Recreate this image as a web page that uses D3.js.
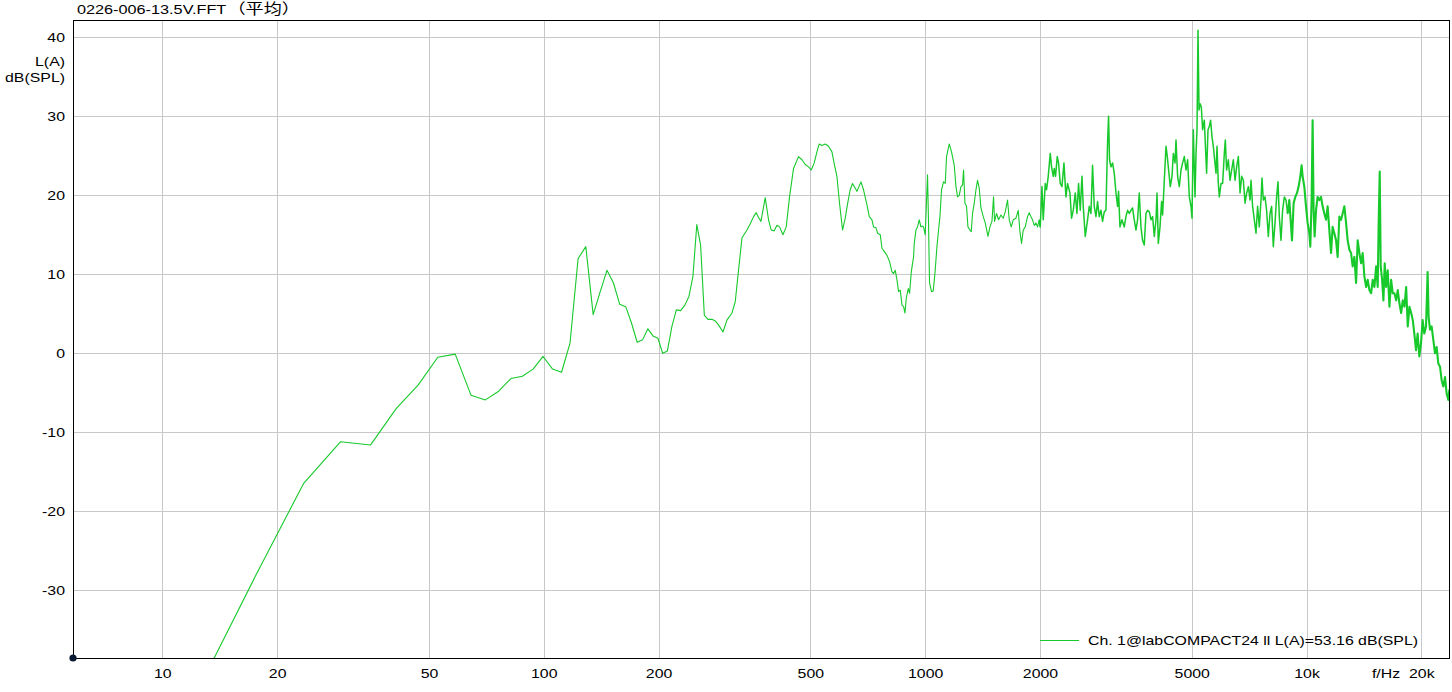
<!DOCTYPE html>
<html>
<head>
<meta charset="utf-8">
<script src="https://cdn.jsdelivr.net/npm/d3@7"></script>
<style>
  html, body { margin: 0; padding: 0; background: #ffffff; }
  svg { display: block; }
</style>
</head>
<body>
<div id="chart"></div>
<script>
// ---------------- data ----------------
const titleLatin = "0226-006-13.5V.FFT";
const titleCjk = "（平均）";
const yUnitLines = ["L(A)", "dB(SPL)"];
const xUnitLabel = "f/Hz";
const legendLabel = "Ch. 1@labCOMPACT24 ll L(A)=53.16 dB(SPL)";

const yTickValues = [-30, -20, -10, 0, 10, 20, 30, 40];
const yTickLabels = ["-30", "-20", "-10", "0", "10", "20", "30", "40"];
const xTickValues = [10, 20, 50, 100, 200, 500, 1000, 2000, 5000, 10000, 20000];
const xTickLabels = ["10", "20", "50", "100", "200", "500", "1000", "2000", "5000", "10k", "20k"];

const xDomainHz = [5.83, 23780];
const yDomainDb = [-38.57, 42.19];

// frequency of each point (Hz)
const freqHz = [
  5.86, 11.72, 17.58, 23.44, 29.30, 35.16, 41.02, 46.88, 52.73, 58.59,
  64.45, 70.31, 76.17, 82.03, 87.89, 93.75, 99.61, 105.47, 111.33, 117.19,
  123.05, 128.91, 134.77, 140.63, 146.48, 152.34, 158.20, 164.06, 169.92, 175.78,
  181.64, 187.50, 193.36, 199.22, 205.08, 210.94, 216.80, 222.66, 228.52, 234.38,
  240.23, 246.09, 251.95, 257.81, 263.67, 269.53,
  276.0, 281.6, 287.3, 295.0, 302.2, 311.5, 317.7, 324.1, 330.9, 341.0,
  347.9, 354.9, 360.7, 365.7, 371.1, 380.8, 388.5, 394.9, 402.1, 408.7,
  415.2, 423.8, 432.3, 441.0, 451.8, 465.6, 475.3, 484.9, 494.7, 502.7,
  511.9, 520.3, 527.6, 536.3, 547.1, 558.1, 569.7, 578.7, 587.1, 596.4,
  607.3, 617.3, 627.5, 636.2, 645.1, 651.8, 662.5, 670.6, 678.7, 689.4,
  703.8, 713.7, 725.4, 732.4, 743.1, 750.3, 762.7, 770.5, 781.3, 794.2,
  806.8, 818.6, 826.5, 835.0, 843.7, 851.8, 860.6, 869.5, 878.0, 885.4,
  892.4, 903.2, 910.4, 919.8, 932.6, 936.3, 946.0, 955.1, 965.0, 975.0,
  984.4, 990.4, 1000.6, 1008.5, 1014.6, 1020.7, 1026.9, 1039.4, 1050.1, 1061.0,
  1073.9, 1084.3, 1093.5, 1104.1, 1117.5, 1129.1, 1138.0, 1156.7, 1172.8, 1192.1,
  1204.4, 1216.1, 1228.7, 1241.3, 1253.4, 1261.0, 1271.7, 1284.0, 1294.9, 1310.7,
  1321.0, 1331.4, 1345.2, 1359.0, 1372.2, 1386.4, 1400.7, 1420.3, 1437.6, 1461.2,
  1479.0, 1496.9, 1511.4, 1520.6, 1539.1, 1557.8, 1580.4, 1602.5, 1621.9, 1644.6,
  1661.6, 1681.8, 1702.2, 1730.2, 1754.4, 1772.5, 1789.7, 1808.1, 1830.1, 1855.7,
  1874.8, 1894.2, 1912.6, 1932.3, 1952.3, 1971.2, 1991.6, 2003.6, 2024.3, 2040.3,
  2065.0, 2081.3, 2102.8, 2128.4, 2145.1, 2167.3, 2180.4, 2197.6, 2220.2, 2237.7,
  2260.8, 2284.2, 2311.9, 2340.0, 2362.7, 2397.2, 2420.5, 2445.5, 2475.2, 2500.7,
  2525.0, 2551.0, 2577.4, 2597.7, 2629.2, 2666.0, 2693.5, 2721.3, 2747.7, 2776.1,
  2804.7, 2832.0, 2861.2, 2890.7, 2918.8, 2948.9, 2979.3, 3008.2, 3026.5, 3044.8,
  3070.6, 3100.5, 3132.4, 3164.8, 3195.5, 3214.8, 3242.1, 3281.5, 3327.4, 3361.8,
  3394.4, 3429.4, 3464.8, 3498.4, 3534.5, 3571.0, 3605.7, 3642.9, 3680.5, 3716.2,
  3754.6, 3793.3, 3830.1, 3870.5, 3910.4, 3948.4, 3989.2, 4030.3, 4054.7, 4086.7,
  4128.9, 4169.0, 4194.3, 4237.6, 4281.3, 4315.0, 4349.0, 4393.8, 4439.2, 4474.2,
  4520.4, 4547.7, 4591.9, 4639.3, 4687.1, 4732.6, 4781.5, 4830.9, 4877.8, 4928.0,
  4978.9, 5009.1, 5048.6, 5100.7, 5131.6, 5162.6, 5193.9, 5225.3, 5256.9, 5298.5,
  5340.3, 5395.2, 5427.8, 5470.7, 5517.1, 5560.7, 5604.5, 5652.1, 5696.6, 5741.5,
  5790.1, 5825.1, 5871.0, 5906.7, 5967.7, 6025.7, 6087.9, 6124.7, 6173.0, 6236.8,
  6301.3, 6362.7, 6428.6, 6495.1, 6558.2, 6626.0, 6694.5, 6759.6, 6829.4, 6900.0,
  6967.2, 7039.2, 7112.0, 7152.2, 7221.6, 7296.1, 7371.4, 7443.0, 7519.8, 7597.4,
  7643.4, 7703.7, 7783.2, 7858.7, 7939.8, 8021.7, 8099.6, 8183.2, 8267.6, 8347.9,
  8418.7, 8485.2, 8572.8, 8656.0, 8745.4, 8835.6, 8921.4, 9013.4, 9084.5, 9161.6,
  9250.6, 9346.1, 9442.5, 9534.1, 9632.5, 9708.4, 9767.3, 9868.0, 9969.8, 10066.7,
  10170.5, 10232.2, 10312.8, 10375.3, 10438.1, 10501.3, 10590.3, 10693.3, 10803.3, 10914.8,
  11021.0, 11134.9, 11249.9, 11359.3, 11476.7, 11595.3, 11708.1, 11829.1, 11951.4, 12067.6,
  12192.3, 12318.3, 12438.1, 12566.7, 12696.6, 12820.1, 12952.6, 13086.5, 13213.7, 13350.3,
  13488.3, 13619.4, 13760.2, 13902.4, 14037.6, 14182.7, 14329.3, 14468.6, 14618.1, 14769.2,
  14912.8, 15067.0, 15222.7, 15370.7, 15463.7, 15557.3, 15651.4, 15784.3, 15908.8, 16034.2,
  16170.5, 16327.8, 16496.7, 16667.2, 16829.3, 17003.2, 17178.9, 17345.9, 17525.2, 17706.3,
  17878.5, 18063.3, 18250.0, 18427.4, 18617.8, 18810.2, 18993.1, 19172.2, 19370.0, 19558.0,
  19760.0, 19963.8, 20157.6, 20365.6, 20575.8, 20775.6, 20901.2, 21078.8, 21283.6, 21501.8,
  21723.2, 21934.0, 22160.6, 22389.4, 22608.4, 22841.6, 23077.2, 23300.4, 23541.0, 23683.4
];

// level of each point, dB(SPL) A-weighted
const levelDb = [
  -62, -45, -28.1, -16.5, -11.2, -11.6, -7.0, -4.0, -0.5, -0.1,
  -5.3, -5.9, -4.8, -3.2, -2.9, -2.0, -0.4, -2.0, -2.4, 1.3,
  12.0, 13.5, 4.9, 7.8, 10.5, 8.9, 6.2, 5.9, 3.8, 1.4,
  1.7, 3.1, 2.2, 1.9, 0.0, 0.3, 3.4, 5.5, 5.4, 6.1,
  7.2, 9.7, 16.3, 13.7, 4.8, 4.3,
  4.3, 4.1, 3.6, 2.7, 4.2, 5.1, 6.5, 10.5, 14.6, 15.6,
  16.4, 17.3, 17.8, 17.2, 16.7, 19.7, 16.9, 15.6, 15.5, 16.2,
  16.0, 15.0, 16.0, 19.8, 23.4, 24.9, 24.5, 23.9, 23.6, 23.2,
  24.1, 25.5, 26.5, 26.3, 26.5, 26.2, 25.5, 23.8, 22.4, 19.0,
  15.6, 17.1, 19.2, 20.7, 21.5, 21.1, 20.5, 21.1, 21.7, 20.7,
  18.8, 17.3, 16.9, 16.0, 15.9, 15.2, 15.0, 13.3, 12.9, 12.4,
  11.6, 10.3, 10.1, 10.5, 9.3, 7.8, 8.0, 6.1, 5.9, 5.1,
  7.0, 8.2, 7.6, 10.3, 12.2, 13.9, 15.6, 16.0, 16.9, 16.0,
  16.1, 16.0, 15.0, 19.4, 22.6, 16.5, 8.9, 7.8, 7.9, 10.1,
  13.5, 15.6, 17.3, 20.7, 21.7, 21.5, 24.9, 26.5, 25.5, 23.8,
  21.1, 19.8, 20.0, 21.1, 21.3, 23.2, 19.0, 18.6, 16.0, 15.6,
  15.4, 17.7, 19.0, 20.7, 21.9, 20.9, 18.4, 17.3, 16.5, 14.8,
  16.0, 16.7, 19.8, 16.7, 17.7, 16.9, 17.5, 17.1, 17.9, 19.4,
  16.9, 16.0, 16.9, 17.1, 18.1, 15.4, 13.9, 15.6, 16.0, 17.3,
  17.8, 17.3, 16.9, 16.2, 16.5, 16.0, 16.9, 16.0, 21.1, 16.9,
  21.5, 20.7, 22.4, 25.3, 23.6, 22.4, 23.4, 22.4, 24.9, 24.1,
  21.5, 21.1, 24.1, 19.8, 21.5, 20.3, 17.1, 18.1, 20.3, 17.7,
  21.5, 18.1, 22.4, 18.6, 14.8, 16.9, 18.6, 17.7, 23.8, 18.6,
  17.3, 19.2, 17.3, 18.1, 16.7, 17.9, 18.1, 26.6, 30.0, 24.5,
  23.6, 24.1, 22.8, 20.3, 18.6, 20.5, 16.0, 16.9, 16.0, 17.3,
  18.1, 17.7, 18.1, 18.4, 16.9, 15.6, 16.9, 20.3, 16.0, 14.3,
  13.7, 17.7, 18.1, 17.9, 16.9, 17.3, 14.8, 16.9, 20.3, 13.9,
  16.0, 19.2, 17.5, 21.9, 26.2, 24.9, 23.2, 21.1, 22.4, 25.3,
  24.1, 27.0, 22.4, 21.1, 23.2, 24.1, 24.9, 23.2, 24.5, 19.8,
  18.6, 17.1, 28.3, 19.8, 25.3, 28.3, 40.9, 30.8, 31.6, 31.2,
  28.3, 29.5, 26.6, 22.8, 28.3, 28.7, 29.5, 27.4, 26.2, 24.5,
  22.8, 26.2, 21.5, 19.8, 21.5, 21.5, 25.3, 27.0, 23.2, 24.5,
  21.9, 23.2, 24.5, 21.9, 23.6, 24.9, 20.3, 22.4, 21.9, 19.0,
  20.3, 21.1, 19.4, 21.9, 18.6, 16.9, 15.2, 18.6, 16.0, 19.4,
  22.2, 19.4, 19.8, 18.1, 14.8, 17.7, 18.6, 13.5, 16.5, 19.8,
  21.7, 17.3, 14.3, 18.1, 19.8, 19.4, 17.7, 19.4, 16.9, 14.3,
  19.0, 19.8, 20.3, 21.1, 22.4, 23.8, 22.4, 21.1, 18.6, 16.5,
  15.2, 13.5, 19.4, 29.5, 18.1, 14.8, 18.1, 19.8, 19.4, 19.8,
  18.6, 17.7, 16.9, 18.6, 15.6, 12.7, 16.0, 15.2, 14.3, 12.2,
  17.3, 16.9, 17.7, 18.6, 16.5, 14.3, 13.1, 12.7, 11.0, 12.2,
  8.9, 14.3, 12.7, 11.4, 12.7, 9.7, 8.4, 9.3, 8.0, 7.6,
  9.3, 8.4, 11.0, 8.4, 16.9, 23.0, 11.0, 9.3, 6.7, 11.4,
  8.4, 10.5, 5.9, 9.3, 7.6, 7.6, 6.7, 8.0, 6.3, 5.1,
  6.7, 5.9, 8.4, 3.4, 5.9, 5.1, 4.2, 2.5, 0.4, 2.5,
  -0.4, 1.3, 4.2, 2.5, 3.4, 10.3, 4.6, 3.0, 3.4, 1.7,
  0.0, 0.8, -1.3, -1.7, -3.4, -4.2, -3.0, -5.1, -5.9, -4.6
];

// ---------------- drawing ----------------
const W = 1452, H = 692;
const plot = { left: 73, top: 20, right: 1450, bottom: 658 };
const FONT = "'Liberation Sans', Arial, 'Noto Sans CJK SC', sans-serif";
const FS = 13;      // font size
const SX = 1.22;    // horizontal stretch of the reference's text
const lineColor = "#17c92b";
const gridColor = "#c8c8c8";

const points = freqHz.map((f, i) => ({ f, v: levelDb[i] }));

const x = d3.scaleLog().domain(xDomainHz).range([plot.left, plot.right]);
const y = d3.scaleLinear().domain(yDomainDb).range([plot.bottom, plot.top]);

const svg = d3.select("#chart").append("svg")
  .attr("width", W).attr("height", H)
  .attr("font-family", FONT).attr("font-size", FS);

function label(px, py, anchor, txt, sx) {
  return svg.append("text")
    .attr("transform", `translate(${px},${py}) scale(${sx || SX},1)`)
    .attr("text-anchor", anchor)
    .attr("fill", "#000")
    .text(txt);
}

// grid
svg.append("g").attr("shape-rendering", "crispEdges")
  .selectAll("line").data(xTickValues).join("line")
  .attr("x1", d => Math.round(x(d)) + 0.5).attr("x2", d => Math.round(x(d)) + 0.5)
  .attr("y1", plot.top).attr("y2", plot.bottom)
  .attr("stroke", gridColor).attr("stroke-width", 1);
svg.append("g").attr("shape-rendering", "crispEdges")
  .selectAll("line").data(yTickValues).join("line")
  .attr("x1", plot.left).attr("x2", plot.right)
  .attr("y1", d => Math.round(y(d)) + 0.5).attr("y2", d => Math.round(y(d)) + 0.5)
  .attr("stroke", gridColor).attr("stroke-width", 1);

// curve: dense FFT bins at high frequency render as a thicker band
svg.append("clipPath").attr("id", "plotClip")
  .append("rect").attr("x", plot.left).attr("y", plot.top)
  .attr("width", plot.right - plot.left).attr("height", plot.bottom - plot.top);

const bands = [
  { lo: 0, hi: 2000, w: 1.1 },
  { lo: 2000, hi: 9000, w: 1.5 },
  { lo: 9000, hi: 1e9, w: 2.1 }
];
const line = d3.line().x(d => x(d.f)).y(d => y(d.v));
const curve = svg.append("g").attr("clip-path", "url(#plotClip)");
bands.forEach(b => {
  const seg = points.filter((p, i) => {
    const next = points[i + 1], prev = points[i - 1];
    return (p.f >= b.lo && p.f < b.hi) ||
           (next && next.f >= b.lo && p.f < b.lo) ||
           (prev && prev.f < b.hi && p.f >= b.hi);
  });
  curve.append("path")
    .datum(seg)
    .attr("fill", "none")
    .attr("stroke", lineColor)
    .attr("stroke-width", b.w)
    .attr("stroke-linejoin", "round")
    .attr("d", line);
});

// frame
svg.append("rect")
  .attr("x", plot.left + 0.5).attr("y", plot.top + 0.5)
  .attr("width", plot.right - plot.left - 1).attr("height", plot.bottom - plot.top)
  .attr("fill", "none").attr("stroke", "#000").attr("stroke-width", 1.2)
  .attr("shape-rendering", "crispEdges");

// y axis labels
const yAxis = svg.append("g")
  .attr("transform", `translate(${plot.left},0)`)
  .call(d3.axisLeft(y).tickValues(yTickValues)
    .tickFormat((d, i) => yTickLabels[i]).tickSize(0).tickPadding(0));
yAxis.select(".domain").remove();
yAxis.attr("font-family", FONT).attr("font-size", FS);
yAxis.selectAll("text")
  .attr("x", -8 / SX).attr("fill", "#000")
  .attr("transform", `scale(${SX},1)`);

// x axis labels
const xAxis = svg.append("g")
  .attr("transform", `translate(0,${plot.bottom})`)
  .call(d3.axisBottom(x).tickValues(xTickValues)
    .tickFormat((d, i) => xTickLabels[i]).tickSize(0).tickPadding(0));
xAxis.select(".domain").remove();
xAxis.attr("font-family", FONT).attr("font-size", FS);
xAxis.selectAll("text")
  .attr("y", 20).attr("dy", 0).attr("fill", "#000")
  .attr("transform", `scale(${SX},1)`);

// units
label(plot.left - 8, 66, "end", yUnitLines[0]);
label(plot.left - 8, 82, "end", yUnitLines[1]);
label(plot.right - 64, plot.bottom + 20, "middle", xUnitLabel);

// title
const title = svg.append("text")
  .attr("transform", `translate(${plot.left + 4},14) scale(1.25,1)`)
  .attr("fill", "#000");
title.append("tspan").text(titleLatin);
title.append("tspan").attr("font-size", 14.5).attr("dx", 1).text(titleCjk);

// origin marker
svg.append("circle")
  .attr("cx", x(xDomainHz[0])).attr("cy", y(yDomainDb[0]))
  .attr("r", 3.6).attr("fill", "#0b1a33");

// legend
const lg = { x1: 1040, x2: 1079, y: 640 };
svg.append("line")
  .attr("x1", lg.x1).attr("x2", lg.x2).attr("y1", lg.y + 0.5).attr("y2", lg.y + 0.5)
  .attr("stroke", lineColor).attr("stroke-width", 1.2);
label(lg.x2 + 9, lg.y + 5, "start", legendLabel);
</script>
</body>
</html>
